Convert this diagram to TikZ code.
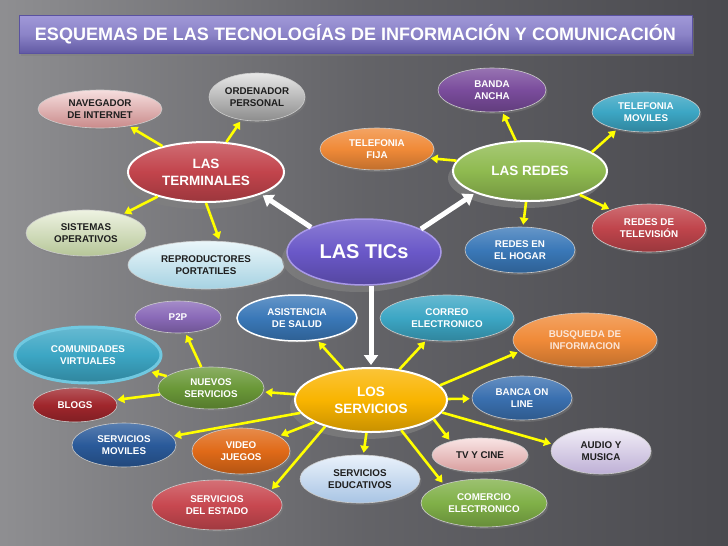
\documentclass[tikz,border=0pt]{standalone}
\usepackage{fontspec}
\setmainfont{Liberation Sans}
\usetikzlibrary{shapes.geometric,shadows,arrows.meta}
\definecolor{bgl}{HTML}{A4A4A6}
\definecolor{bgm}{HTML}{6E6E72}
\definecolor{bgd}{HTML}{4A4A4F}
\pgfdeclarehorizontalshading{bgsh}{100bp}{color(0bp)=(bgl); color(25bp)=(bgl!60!bgm); color(50bp)=(bgm!70!bgd); color(75bp)=(bgd); color(100bp)=(bgd)}
\definecolor{cterm}{HTML}{C2444C}
\definecolor{cred}{HTML}{C0454C}
\definecolor{cgreen}{HTML}{8FBA50}
\definecolor{cserv}{HTML}{F9B400}
\definecolor{ctics}{HTML}{6A58C8}
\definecolor{cbanda}{HTML}{7A4C9C}
\definecolor{cteal}{HTML}{3CA6C4}
\definecolor{corange}{HTML}{F08A38}
\definecolor{cblue}{HTML}{3A78B8}
\definecolor{cp2p}{HTML}{8A6AB8}
\definecolor{cnuevos}{HTML}{6A9838}
\definecolor{cblogs}{HTML}{A0262C}
\definecolor{cmov}{HTML}{2A5A9A}
\definecolor{cvideo}{HTML}{E06A18}
\definecolor{cestado}{HTML}{C84850}
\definecolor{ccomer}{HTML}{80B048}
\definecolor{cbanca}{HTML}{3A70B0}
\definecolor{yel}{HTML}{FFFF00}
\definecolor{dtext}{HTML}{1E1E1E}
\definecolor{navA}{HTML}{F6DEDE}\definecolor{navB}{HTML}{C98A8A}
\definecolor{ordA}{HTML}{E8E8E8}\definecolor{ordB}{HTML}{8C8C8C}
\definecolor{sisA}{HTML}{EEF3E2}\definecolor{sisB}{HTML}{B6C698}
\definecolor{repA}{HTML}{EAF6FA}\definecolor{repB}{HTML}{A6D2E2}
\definecolor{eduA}{HTML}{EAF2FB}\definecolor{eduB}{HTML}{A8C4E4}
\definecolor{audA}{HTML}{F2EEF7}\definecolor{audB}{HTML}{BEB0D6}
\definecolor{tvcA}{HTML}{F9E4E4}\definecolor{tvcB}{HTML}{D89E9E}
\definecolor{ticsborder}{HTML}{A898E8}
\definecolor{comborder}{HTML}{70C8E0}
\definecolor{busqtext}{HTML}{FBE6D8}
\definecolor{tbA}{HTML}{A098D8}
\definecolor{tbB}{HTML}{625AA4}
\definecolor{tbM}{HTML}{8C84C8}
\definecolor{tbD}{HTML}{5A52A0}
\tikzset{
  bub/.style={ellipse, inner sep=0pt, align=center,
    font=\fontsize{9.8}{11.5}\selectfont\bfseries, text=white,
    draw=white!80!black, line width=0.6pt,
    drop shadow={shadow xshift=1.5pt, shadow yshift=-2pt, opacity=.45}},
  big/.style={ellipse, inner sep=0pt, align=center,
    font=\fontsize{13.5}{17}\selectfont\bfseries, text=white,
    draw=white, line width=2pt,
    drop shadow={shadow xshift=-5pt, shadow yshift=-7pt, opacity=.7}},
  sz/.style n args={2}{minimum width=#1pt, minimum height=#2pt},
  fc/.style={top color=#1!78!white, bottom color=#1!80!black, middle color=#1},
  lc/.style 2 args={top color=#1, bottom color=#2, middle color=#1!50!#2, text=dtext},
  yarrow/.style={draw=yel, line width=2.6pt, shorten >=2pt,
    -{Triangle[length=7pt,width=8.5pt]}},
  warrow/.style={draw=white, line width=5pt, shorten >=2pt,
    -{Triangle[length=10pt,width=14pt]}},
  titlebar/.style={rectangle, minimum width=673pt, minimum height=38pt,
    top color=tbA, bottom color=tbB, middle color=tbM,
    draw=tbD, line width=0.5pt, text=white,
    font=\fontsize{18}{20}\selectfont\bfseries,
    drop shadow={shadow xshift=2pt, shadow yshift=-3pt, opacity=.5}},
}
\begin{document}
\begin{tikzpicture}[x=1pt,y=-1pt]
\path[use as bounding box] (0,0) rectangle (728,546);
\shade[shading=bgsh] (0,0) rectangle (728,546);

\node[titlebar] (title) at (355.5,34) {ESQUEMAS DE LAS TECNOLOGÍAS DE INFORMACIÓN Y COMUNICACIÓN};

% ---- terminales group
\node[bub, sz={124}{38}, lc={navA}{navB}] (navegador) at (100,109) {NAVEGADOR\\DE INTERNET};
\node[big, sz={156}{60}, fc=cterm] (terminales) at (206,172) {LAS\\TERMINALES};
\node[bub, sz={96}{48}, lc={ordA}{ordB}] (ordenador) at (257,97) {ORDENADOR\\PERSONAL};
\node[bub, sz={120}{46}, lc={sisA}{sisB}] (sistemas) at (86,233) {SISTEMAS\\OPERATIVOS};
\node[bub, sz={156}{48}, lc={repA}{repB}] (reproductores) at (206,265) {REPRODUCTORES\\PORTATILES};

% ---- center
\node[big, sz={154}{66}, fc=ctics, draw=ticsborder, line width=1.5pt,
      font=\fontsize{20}{23}\selectfont\bfseries] (tics) at (364,252) {LAS TICs};

% ---- redes group
\node[bub, sz={108}{44}, fc=cbanda] (banda) at (492,90) {BANDA\\ANCHA};
\node[bub, sz={108}{40}, fc=cteal] (movil) at (646,112) {TELEFONIA\\MOVILES};
\node[bub, sz={114}{42}, fc=corange] (fija) at (377,149) {TELEFONIA\\FIJA};
\node[big, sz={154}{60}, fc=cgreen] (redes) at (530,171) {LAS REDES};
\node[bub, sz={114}{48}, fc=cred] (tv) at (649,228) {REDES DE\\TELEVISIÓN};
\node[bub, sz={110}{46}, fc=cblue] (hogar) at (520,250) {REDES EN\\EL HOGAR};

% ---- servicios group
\node[big, sz={152}{64}, fc=cserv] (servicios) at (371,400) {LOS\\SERVICIOS};
\node[bub, sz={86}{32}, fc=cp2p] (p2p) at (178,317) {P2P};
\node[bub, sz={120}{46}, fc=cblue, draw=white, line width=1.5pt] (asistencia) at (297,318) {ASISTENCIA\\DE SALUD};
\node[bub, sz={146}{56}, fc=cteal, draw=comborder, line width=3pt] (comunidades) at (88,355) {COMUNIDADES\\VIRTUALES};
\node[bub, sz={106}{42}, fc=cnuevos] (nuevos) at (211,388) {NUEVOS\\SERVICIOS};
\node[bub, sz={84}{34}, fc=cblogs] (blogs) at (75,405) {BLOGS};
\node[bub, sz={104}{44}, fc=cmov] (smoviles) at (124,445) {SERVICIOS\\MOVILES};
\node[bub, sz={98}{46}, fc=cvideo] (video) at (241,451) {VIDEO\\JUEGOS};
\node[bub, sz={130}{50}, fc=cestado] (estado) at (217,505) {SERVICIOS\\DEL ESTADO};
\node[bub, sz={120}{48}, lc={eduA}{eduB}] (educativos) at (360,479) {SERVICIOS\\EDUCATIVOS};
\node[bub, sz={134}{46}, fc=cteal] (correo) at (447,318) {CORREO\\ELECTRONICO};
\node[bub, sz={144}{54}, fc=corange, text=busqtext] (busqueda) at (585,340) {BUSQUEDA DE\\INFORMACION};
\node[bub, sz={100}{44}, fc=cbanca] (banca) at (522,398) {BANCA ON\\LINE};
\node[bub, sz={100}{46}, lc={audA}{audB}] (audio) at (601,451) {AUDIO Y\\MUSICA};
\node[bub, sz={96}{34}, lc={tvcA}{tvcB}] (tvcine) at (480,455) {TV Y CINE};
\node[bub, sz={126}{48}, fc=ccomer] (comercio) at (484,503) {COMERCIO\\ELECTRONICO};

% ---- white arrows
\draw[warrow] (tics.155) -- (terminales.-22);
\draw[warrow] (tics.22) -- (redes.202);
\draw[warrow] (servicios.north |- tics.south) -- (servicios.north);

% ---- terminales arrows
\draw[yarrow] (terminales) -- (navegador);
\draw[yarrow] (terminales) -- (ordenador);
\draw[yarrow] (terminales) -- (sistemas);
\draw[yarrow] (terminales.-90) -- (reproductores.60);

% ---- redes arrows
\draw[yarrow] (redes) -- (banda);
\draw[yarrow] (redes.17) -- (movil.211);
\draw[yarrow] (redes.172) -- (fija.-10);
\draw[yarrow] (redes) -- (tv);
\draw[yarrow] (redes) -- (hogar);

% ---- servicios arrows
\draw[yarrow] (servicios) -- (asistencia);
\draw[yarrow] (servicios) -- (nuevos);
\draw[yarrow] (servicios) -- (smoviles);
\draw[yarrow] (servicios) -- (video);
\draw[yarrow] (servicios.210) -- (estado.15);
\draw[yarrow] (servicios) -- (educativos);
\draw[yarrow] (servicios) -- (correo);
\draw[yarrow] (servicios.12) -- (busqueda.190);
\draw[yarrow] (servicios) -- (banca);
\draw[yarrow] (servicios.-10) -- (audio.172);
\draw[yarrow] (servicios.-17) -- (tvcine.155);
\draw[yarrow] (servicios.-45) -- (comercio.155);

% ---- nuevos servicios arrows
\draw[yarrow] (nuevos) -- (p2p);
\draw[yarrow] (nuevos) -- (comunidades);
\draw[yarrow] (nuevos) -- (blogs);
\end{tikzpicture}
\end{document}
